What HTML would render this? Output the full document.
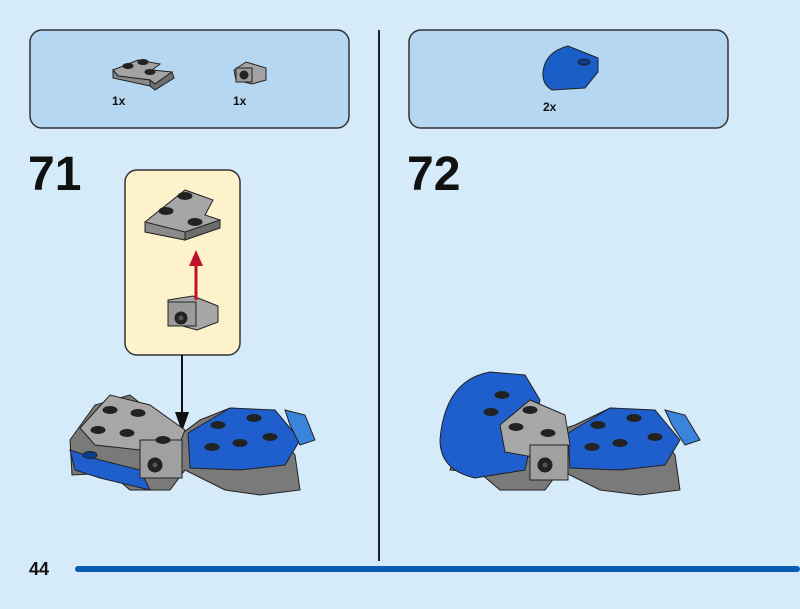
<!DOCTYPE html>
<html><head><style>
html,body{margin:0;padding:0;background:#d6ebf9;}
body{width:800px;height:604px;overflow:hidden;font-family:"Liberation Sans",sans-serif;}
</style></head><body>
<svg width="800" height="604" viewBox="0 0 800 604" xmlns="http://www.w3.org/2000/svg" font-family="Liberation Sans, sans-serif">
<rect width="800" height="604" fill="#d6ebf9"/>
<rect x="30" y="30" width="319" height="98" rx="12" fill="#b5d7f1" stroke="#333" stroke-width="1.5"/>
<rect x="409" y="30" width="319" height="98" rx="12" fill="#b5d7f1" stroke="#333" stroke-width="1.5"/>
<line x1="379" y1="30" x2="379" y2="561" stroke="#222" stroke-width="2"/>
<g stroke="#222" stroke-width="1">
<polygon points="113,70 138,60 160,64 152,70 172,72 155,84 150,80 118,76" fill="#a3a3a3"/>
<polygon points="150,80 155,84 172,72 174,78 155,90 150,86" fill="#6f6f6f"/>
<polygon points="113,70 118,76 150,80 150,86 113,78" fill="#8a8a8a"/>
<ellipse cx="128" cy="66" rx="5" ry="2.5" fill="#222"/><ellipse cx="143" cy="62" rx="5" ry="2.5" fill="#222"/><ellipse cx="150" cy="72" rx="5" ry="2.5" fill="#222"/>
<polygon points="234,70 246,62 266,68 266,80 252,84 236,80" fill="#a3a3a3"/>
<rect x="236" y="68" width="16" height="14" fill="#9a9a9a"/>
<circle cx="244" cy="75" r="4" fill="#222"/>
</g>
<text x="112" y="105" font-size="12" font-weight="bold" fill="#111">1x</text>
<text x="233" y="105" font-size="12" font-weight="bold" fill="#111">1x</text>
<g stroke="#222" stroke-width="1">
<path d="M543,72 Q545,52 568,46 L598,58 L598,72 L585,88 L552,90 Q542,84 543,72Z" fill="#1a5ec8"/>
<ellipse cx="584" cy="62" rx="6" ry="3" fill="#0c3f90"/>
</g>
<text x="543" y="111" font-size="12" font-weight="bold" fill="#111">2x</text>
<text x="28" y="190" font-size="48" font-weight="bold" fill="#111">71</text>
<text x="407" y="190" font-size="48" font-weight="bold" fill="#111">72</text>
<rect x="125" y="170" width="115" height="185" rx="12" fill="#fdf2cb" stroke="#333" stroke-width="1.5"/>
<g stroke="#222" stroke-width="1">
<polygon points="145,222 185,190 213,200 205,215 220,220 185,240 145,232" fill="#a6a6a6"/>
<polygon points="145,222 185,232 185,240 145,232" fill="#8a8a8a"/>
<polygon points="185,232 220,220 220,228 185,240" fill="#6d6d6d"/>
<ellipse cx="185" cy="196" rx="7" ry="3.5" fill="#222"/><ellipse cx="166" cy="211" rx="7" ry="3.5" fill="#222"/><ellipse cx="195" cy="222" rx="7" ry="3.5" fill="#222"/>
<polygon points="168,300 193,296 218,306 218,322 197,330 168,322" fill="#a6a6a6"/>
<rect x="168" y="302" width="28" height="24" fill="#9a9a9a"/>
<circle cx="181" cy="318" r="6" fill="#222"/><circle cx="181" cy="318" r="3" fill="#555"/>
</g>
<line x1="196" y1="300" x2="196" y2="262" stroke="#c0102a" stroke-width="3"/>
<polygon points="189,266 196,250 203,266" fill="#c0102a"/>
<line x1="182" y1="355" x2="182" y2="415" stroke="#111" stroke-width="2"/>
<polygon points="175,412 182,432 189,412" fill="#111"/>
<g stroke="#222" stroke-width="1">
<polygon points="110,473 130,490 170,490 185,470 225,490 260,495 300,490 295,455 260,410 230,408 200,420 180,435 130,395 95,405 70,440 72,475" fill="#7a7a7a"/>
<polygon points="70,450 100,460 140,470 150,490 100,478 75,470" fill="#1e5fcd"/>
<polygon points="188,433 230,408 275,410 300,440 285,465 240,470 190,468" fill="#1e5fcd"/>
<polygon points="80,428 110,395 150,405 185,430 175,455 140,450 95,445" fill="#a7a7a7"/>
<rect x="140" y="440" width="42" height="38" fill="#a0a0a0"/>
<circle cx="155" cy="465" r="7" fill="#222"/><circle cx="155" cy="465" r="3" fill="#555"/>
<ellipse cx="110" cy="410" rx="7" ry="3.5" fill="#222"/><ellipse cx="138" cy="413" rx="7" ry="3.5" fill="#222"/><ellipse cx="98" cy="430" rx="7" ry="3.5" fill="#222"/><ellipse cx="127" cy="433" rx="7" ry="3.5" fill="#222"/><ellipse cx="163" cy="440" rx="7" ry="3.5" fill="#222"/>
<ellipse cx="90" cy="455" rx="7" ry="3.5" fill="#0c3f90"/>
<ellipse cx="218" cy="425" rx="7" ry="3.5" fill="#222"/><ellipse cx="254" cy="418" rx="7" ry="3.5" fill="#222"/><ellipse cx="212" cy="447" rx="7" ry="3.5" fill="#222"/><ellipse cx="240" cy="443" rx="7" ry="3.5" fill="#222"/><ellipse cx="270" cy="437" rx="7" ry="3.5" fill="#222"/>
<polygon points="285,410 305,415 315,440 300,445 290,425" fill="#3a85db"/>
</g>
<g stroke="#222" stroke-width="1">
<polygon points="480,473 500,490 545,490 560,470 600,490 640,495 680,490 675,455 640,410 610,408 575,425 560,430 540,410 460,440 450,470" fill="#7a7a7a"/>
<path d="M440,440 Q445,380 490,372 L525,375 L540,400 L525,470 L475,478 Q440,470 440,440Z" fill="#1e5fcd"/>
<polygon points="568,433 610,408 655,410 680,440 665,465 620,470 570,468" fill="#1e5fcd"/>
<polygon points="500,425 530,400 565,415 570,445 550,460 505,452" fill="#a7a7a7"/>
<rect x="530" y="445" width="38" height="35" fill="#a0a0a0"/>
<circle cx="545" cy="465" r="7" fill="#222"/><circle cx="545" cy="465" r="3" fill="#555"/>
<ellipse cx="502" cy="395" rx="7" ry="3.5" fill="#222"/><ellipse cx="491" cy="412" rx="7" ry="3.5" fill="#222"/>
<ellipse cx="530" cy="410" rx="7" ry="3.5" fill="#222"/><ellipse cx="516" cy="427" rx="7" ry="3.5" fill="#222"/><ellipse cx="548" cy="433" rx="7" ry="3.5" fill="#222"/>
<ellipse cx="598" cy="425" rx="7" ry="3.5" fill="#222"/><ellipse cx="634" cy="418" rx="7" ry="3.5" fill="#222"/><ellipse cx="592" cy="447" rx="7" ry="3.5" fill="#222"/><ellipse cx="620" cy="443" rx="7" ry="3.5" fill="#222"/><ellipse cx="655" cy="437" rx="7" ry="3.5" fill="#222"/>
<polygon points="665,410 685,415 700,440 685,445 672,425" fill="#3a85db"/>
</g>
<text x="29" y="575" font-size="18" font-weight="bold" fill="#111">44</text>
<rect x="75" y="566" width="725" height="6" rx="3" fill="#0b5cb3"/>
</svg>
</body></html>
